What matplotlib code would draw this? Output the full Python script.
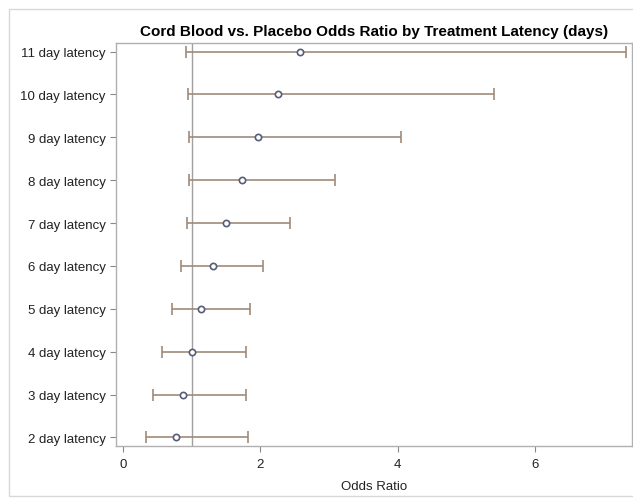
import matplotlib
matplotlib.use("Agg")
import matplotlib.pyplot as plt
from matplotlib.patches import Rectangle

categories = ["2 day latency", "3 day latency", "4 day latency", "5 day latency",
              "6 day latency", "7 day latency", "8 day latency", "9 day latency",
              "10 day latency", "11 day latency"]
odds_ratio = [0.77, 0.87, 1.00, 1.14, 1.31, 1.50, 1.73, 1.97, 2.26, 2.58]
lower_ci = [0.33, 0.44, 0.57, 0.71, 0.84, 0.93, 0.96, 0.96, 0.95, 0.92]
upper_ci = [1.82, 1.79, 1.79, 1.85, 2.04, 2.43, 3.09, 4.05, 5.40, 7.32]
x_ticks = [0, 2, 4, 6]

plt.rcParams['font.family'] = ['Liberation Sans', 'DejaVu Sans']

fig = plt.figure(figsize=(6.33, 5.02), dpi=100)
fig.patches.append(Rectangle((9/633, 1-497/502), 1.0, (497-10)/502,
                             transform=fig.transFigure, fill=False,
                             edgecolor='#d8d8d8', linewidth=1.0))
ax = fig.add_axes([116/633, 1-447/502, (632-116)/633, (447-44)/502])

ypos = list(range(len(categories)))
err_lo = [o - l for o, l in zip(odds_ratio, lower_ci)]
err_hi = [u - o for o, u in zip(odds_ratio, upper_ci)]

ax.axvline(1.0, color='#a0a0a0', linewidth=1.0, zorder=1)
ax.errorbar(odds_ratio, ypos, xerr=[err_lo, err_hi], fmt='none',
            ecolor='#a08a7a', elinewidth=1.2, capsize=4, capthick=1.2, zorder=2)
ax.plot(odds_ratio, ypos, linestyle='none', marker='o', markersize=4.5,
        markerfacecolor='white', markeredgecolor='#555d78', markeredgewidth=1.2, zorder=3)

ax.set_xlim(-0.1, 7.41)
ax.set_ylim(-0.2, 9.2)
ax.set_yticks(ypos)
ax.set_yticklabels(categories, fontsize=9.5, color='#222222')
ax.set_xticks(x_ticks)
ax.set_xticklabels([str(t) for t in x_ticks], fontsize=9.5, color='#222222')
ax.tick_params(axis='both', colors='#888888', labelcolor='#222222', length=4, width=0.8)
ax.tick_params(axis='x', pad=5)
ax.set_xlabel("Odds Ratio", fontsize=9.5, color='#222222', labelpad=7)
for s in ax.spines.values():
    s.set_color('#b0b0b0')
    s.set_linewidth(1.0)
ax.set_title("Cord Blood vs. Placebo Odds Ratio by Treatment Latency (days)",
             fontsize=11, fontweight='bold', pad=6)

fig.savefig("out.png", dpi=100)
